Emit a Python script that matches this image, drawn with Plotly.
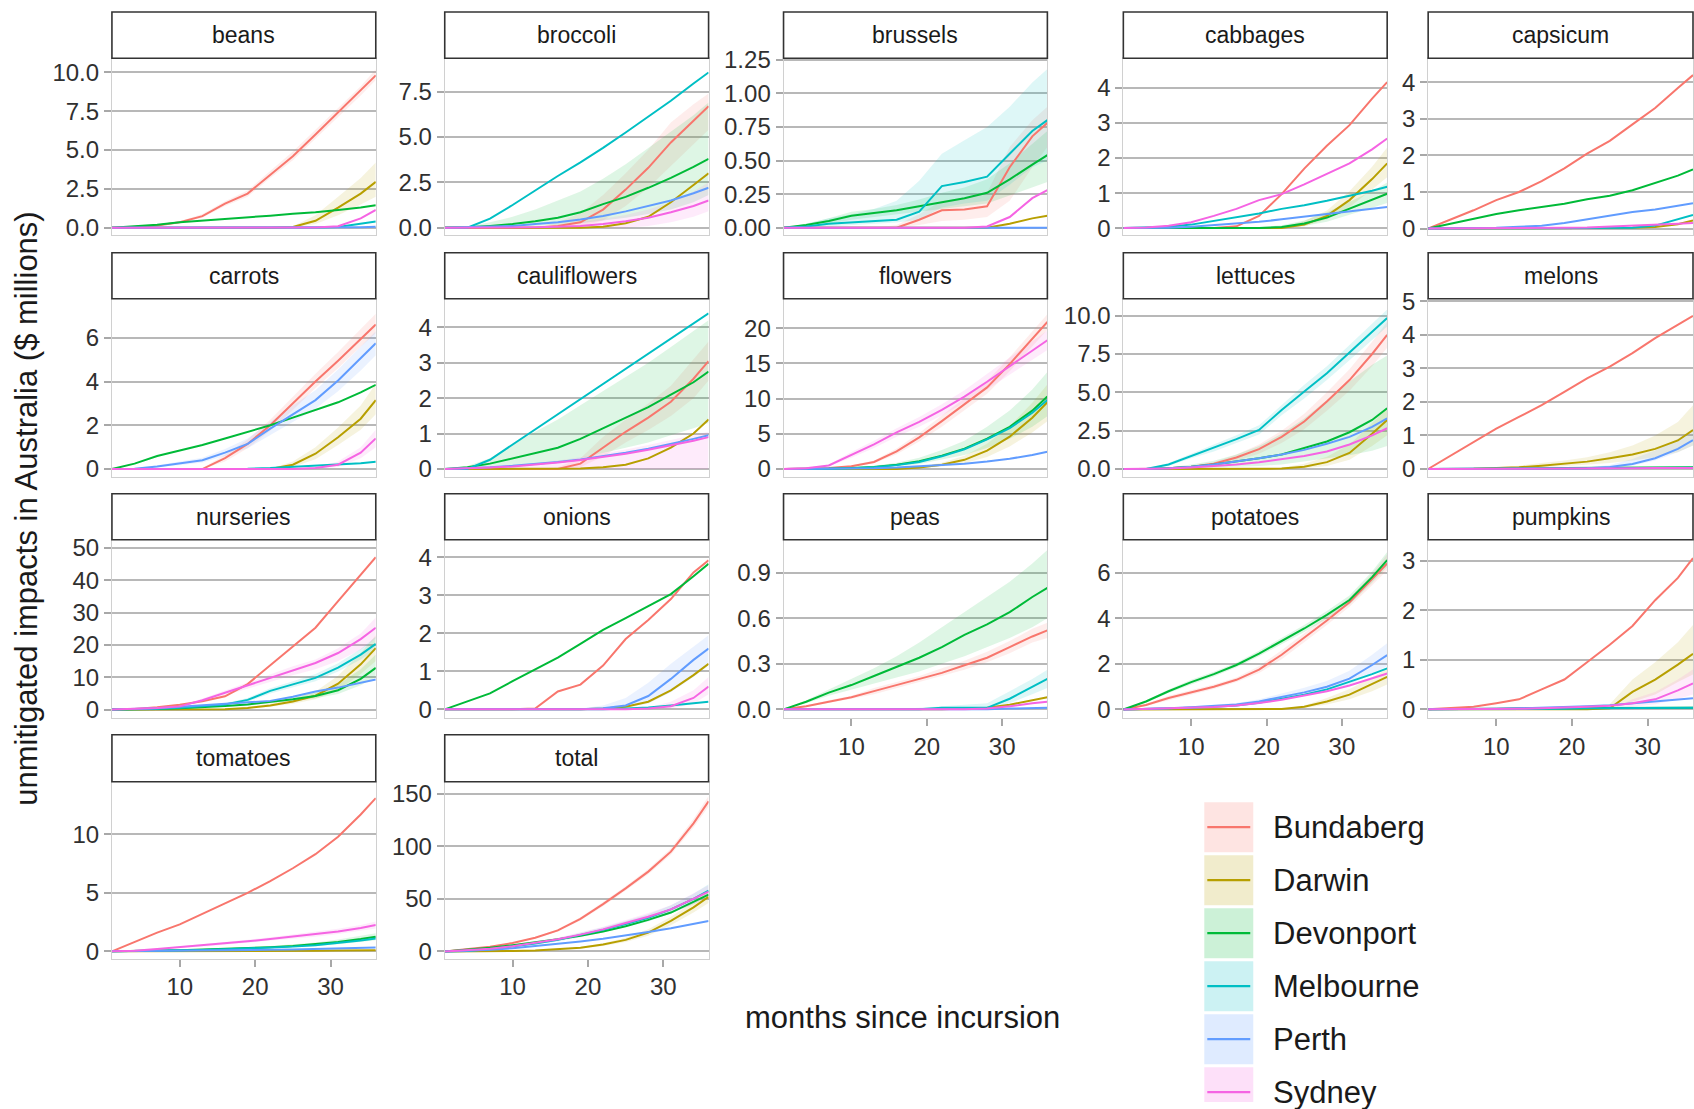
import plotly.graph_objects as go

# ---------------- data ----------------
MONTHS = [1, 4, 7, 10, 13, 16, 19, 22, 25, 28, 31, 34, 36]
CITIES = ["Bundaberg", "Darwin", "Devonport", "Melbourne", "Perth", "Sydney"]
CROPS = ["beans", "broccoli", "brussels", "cabbages", "capsicum",
         "carrots", "cauliflowers", "flowers", "lettuces", "melons",
         "nurseries", "onions", "peas", "potatoes", "pumpkins",
         "tomatoes", "total"]

beans = {
    "Bundaberg": [0, 0.05, 0.15, 0.35, 0.75, 1.55, 2.2, 3.4, 4.6, 6.0, 7.4, 8.8, 9.8],
    "Darwin":    [0, 0, 0, 0, 0, 0, 0, 0, 0.05, 0.45, 1.3, 2.2, 2.95],
    "Devonport": [0, 0.1, 0.2, 0.35, 0.45, 0.55, 0.65, 0.78, 0.9, 1.0, 1.15, 1.3, 1.45],
    "Melbourne": [0, 0, 0, 0, 0, 0, 0, 0, 0, 0.02, 0.05, 0.25, 0.4],
    "Perth":     [0, 0, 0, 0, 0, 0, 0, 0, 0, 0.01, 0.02, 0.04, 0.06],
    "Sydney":    [0, 0, 0, 0, 0, 0, 0, 0, 0, 0.02, 0.1, 0.6, 1.15],
}
broccoli = {
    "Bundaberg": [0, 0, 0, 0, 0, 0.1, 0.3, 1.0, 2.1, 3.3, 4.7, 5.9, 6.7],
    "Darwin":    [0, 0, 0, 0, 0, 0, 0, 0.05, 0.25, 0.6, 1.4, 2.35, 3.0],
    "Devonport": [0, 0.02, 0.1, 0.2, 0.35, 0.55, 0.85, 1.3, 1.7, 2.2, 2.75, 3.35, 3.8],
    "Melbourne": [0, 0, 0.5, 1.25, 2.05, 2.85, 3.6, 4.4, 5.25, 6.1, 7.0, 7.95, 8.56],
    "Perth":     [0, 0.02, 0.05, 0.1, 0.2, 0.3, 0.45, 0.65, 0.9, 1.2, 1.5, 1.9, 2.2],
    "Sydney":    [0, 0, 0, 0, 0.02, 0.05, 0.1, 0.2, 0.35, 0.55, 0.85, 1.2, 1.5],
}
brussels = {
    "Bundaberg": [0, 0, 0, 0, 0, 0, 0.06, 0.13, 0.135, 0.16, 0.45, 0.68, 0.78],
    "Darwin":    [0, 0, 0, 0, 0, 0, 0, 0, 0, 0, 0.03, 0.07, 0.09],
    "Devonport": [0, 0.02, 0.05, 0.09, 0.11, 0.13, 0.16, 0.19, 0.22, 0.26, 0.36, 0.47, 0.54],
    "Melbourne": [0, 0.01, 0.03, 0.04, 0.05, 0.06, 0.12, 0.31, 0.34, 0.38, 0.55, 0.72, 0.80],
    "Perth":     [0, 0, 0, 0, 0, 0, 0, 0, 0, 0, 0, 0, 0],
    "Sydney":    [0, 0, 0, 0, 0, 0, 0, 0, 0, 0.01, 0.08, 0.22, 0.28],
}
cabbages = {
    "Bundaberg": [0, 0, 0, 0, 0, 0.05, 0.35, 0.97, 1.7, 2.35, 2.94, 3.7, 4.17],
    "Darwin":    [0, 0, 0, 0, 0, 0, 0, 0, 0.1, 0.35, 0.8, 1.4, 1.85],
    "Devonport": [0, 0, 0, 0, 0, 0, 0, 0.03, 0.13, 0.3, 0.55, 0.8, 0.98],
    "Melbourne": [0, 0.01, 0.04, 0.1, 0.2, 0.3, 0.42, 0.55, 0.65, 0.78, 0.92, 1.07, 1.18],
    "Perth":     [0, 0, 0.01, 0.04, 0.08, 0.12, 0.18, 0.25, 0.33, 0.4, 0.48, 0.55, 0.6],
    "Sydney":    [0, 0.02, 0.07, 0.17, 0.35, 0.55, 0.8, 0.97, 1.25, 1.55, 1.85, 2.25, 2.56],
}
capsicum = {
    "Bundaberg": [0, 0.25, 0.5, 0.78, 1.0, 1.3, 1.65, 2.05, 2.4, 2.85, 3.3, 3.85, 4.2],
    "Darwin":    [0, 0, 0, 0, 0, 0, 0, 0, 0.01, 0.02, 0.04, 0.12, 0.22],
    "Devonport": [0, 0.13, 0.27, 0.4, 0.5, 0.58, 0.68, 0.8, 0.9, 1.05, 1.25, 1.45, 1.62],
    "Melbourne": [0, 0, 0, 0, 0, 0, 0, 0, 0, 0.02, 0.08, 0.25, 0.37],
    "Perth":     [0, 0, 0, 0.02, 0.05, 0.08, 0.15, 0.25, 0.35, 0.45, 0.52, 0.62, 0.69],
    "Sydney":    [0, 0, 0, 0, 0, 0.01, 0.02, 0.03, 0.05, 0.08, 0.1, 0.13, 0.15],
}
carrots = {
    "Bundaberg": [0, 0, 0, 0, 0, 0.5, 1.15, 2.0, 3.0, 4.0, 4.95, 5.95, 6.6],
    "Darwin":    [0, 0, 0, 0, 0, 0, 0, 0, 0.2, 0.7, 1.45, 2.3, 3.15],
    "Devonport": [0, 0.25, 0.6, 0.85, 1.1, 1.4, 1.7, 2.0, 2.35, 2.7, 3.05, 3.5, 3.85],
    "Melbourne": [0, 0, 0, 0, 0, 0, 0.02, 0.05, 0.1, 0.15, 0.2, 0.27, 0.33],
    "Perth":     [0, 0.02, 0.12, 0.25, 0.4, 0.75, 1.15, 1.85, 2.5, 3.15, 4.05, 5.05, 5.75],
    "Sydney":    [0, 0, 0, 0, 0, 0, 0, 0, 0, 0.05, 0.2, 0.75, 1.4],
}
cauliflowers = {
    "Bundaberg": [0, 0, 0, 0, 0, 0, 0.15, 0.6, 1.05, 1.45, 1.9, 2.55, 3.05],
    "Darwin":    [0, 0, 0, 0, 0, 0, 0.01, 0.05, 0.12, 0.3, 0.6, 1.0, 1.4],
    "Devonport": [0, 0.05, 0.15, 0.3, 0.45, 0.6, 0.85, 1.15, 1.45, 1.75, 2.1, 2.45, 2.75],
    "Melbourne": [0, 0, 0.26, 0.69, 1.11, 1.54, 1.97, 2.4, 2.83, 3.26, 3.69, 4.12, 4.4],
    "Perth":     [0, 0.02, 0.05, 0.09, 0.14, 0.2, 0.27, 0.36, 0.46, 0.57, 0.7, 0.85, 0.95],
    "Sydney":    [0, 0.01, 0.04, 0.07, 0.12, 0.18, 0.25, 0.33, 0.43, 0.54, 0.66, 0.8, 0.9],
}
flowers = {
    "Bundaberg": [0, 0.05, 0.15, 0.4, 1.0, 2.5, 4.5, 6.8, 9.2, 11.6, 14.9, 18.5, 20.9],
    "Darwin":    [0, 0, 0, 0, 0, 0, 0.2, 0.6, 1.3, 2.6, 4.6, 7.3, 9.5],
    "Devonport": [0, 0, 0.05, 0.15, 0.3, 0.6, 1.1, 1.9, 2.9, 4.3, 6.0, 8.3, 10.3],
    "Melbourne": [0, 0, 0.05, 0.12, 0.25, 0.55, 1.0, 1.8, 2.8, 4.2, 5.8, 8.0, 9.8],
    "Perth":     [0, 0, 0, 0.05, 0.1, 0.2, 0.35, 0.5, 0.75, 1.05, 1.45, 2.0, 2.45],
    "Sydney":    [0, 0.1, 0.5, 2.0, 3.5, 5.2, 6.7, 8.4, 10.3, 12.4, 14.6, 16.8, 18.3],
}
lettuces = {
    "Bundaberg": [0, 0, 0.05, 0.15, 0.35, 0.75, 1.3, 2.1, 3.1, 4.4, 5.8, 7.5, 8.75],
    "Darwin":    [0, 0, 0, 0, 0, 0, 0, 0.03, 0.15, 0.45, 1.05, 2.3, 3.2],
    "Devonport": [0, 0, 0.05, 0.15, 0.3, 0.5, 0.7, 0.95, 1.35, 1.8, 2.4, 3.2, 3.96],
    "Melbourne": [0, 0, 0.3, 0.85, 1.35, 1.95, 2.55, 3.85, 5.05, 6.25, 7.6, 8.95, 9.85],
    "Perth":     [0, 0, 0.05, 0.15, 0.3, 0.5, 0.7, 0.95, 1.25, 1.65, 2.1, 2.75, 3.3],
    "Sydney":    [0, 0, 0.03, 0.1, 0.2, 0.3, 0.45, 0.65, 0.85, 1.15, 1.6, 2.2, 2.66],
}
melons = {
    "Bundaberg": [0, 0.4, 0.8, 1.2, 1.55, 1.9, 2.3, 2.7, 3.05, 3.45, 3.9, 4.3, 4.56],
    "Darwin":    [0, 0, 0.01, 0.03, 0.05, 0.1, 0.15, 0.22, 0.32, 0.43, 0.6, 0.85, 1.16],
    "Devonport": [0, 0, 0.01, 0.01, 0.02, 0.02, 0.03, 0.03, 0.03, 0.04, 0.04, 0.05, 0.05],
    "Melbourne": [0, 0, 0, 0.01, 0.01, 0.01, 0.02, 0.02, 0.02, 0.03, 0.03, 0.03, 0.04],
    "Perth":     [0, 0, 0, 0, 0, 0, 0, 0.02, 0.06, 0.15, 0.32, 0.6, 0.86],
    "Sydney":    [0, 0, 0, 0, 0.01, 0.01, 0.01, 0.02, 0.02, 0.02, 0.03, 0.03, 0.03],
}
nurseries = {
    "Bundaberg": [0, 0.2, 0.7, 1.5, 2.6, 4.1, 7.9, 13.8, 19.5, 25.3, 33.5, 41.8, 47.1],
    "Darwin":    [0, 0, 0, 0, 0, 0.1, 0.5, 1.3, 2.5, 4.3, 8.0, 14.0, 19.0],
    "Devonport": [0, 0.05, 0.2, 0.4, 0.7, 1.1, 1.6, 2.3, 3.2, 4.2, 6.0, 9.5, 12.9],
    "Melbourne": [0, 0.1, 0.3, 0.6, 1.0, 1.6, 3.0, 5.8, 7.8, 9.8, 13.0, 17.0, 20.3],
    "Perth":     [0, 0.1, 0.4, 0.9, 1.4, 1.8, 2.2, 2.7, 4.0, 5.6, 6.8, 8.2, 9.3],
    "Sydney":    [0, 0.2, 0.5, 1.0, 2.9, 5.2, 7.5, 9.6, 12.0, 14.4, 17.5, 21.8, 25.3],
}
onions = {
    "Bundaberg": [0, 0, 0, 0, 0.02, 0.47, 0.65, 1.15, 1.85, 2.35, 2.9, 3.6, 3.92],
    "Darwin":    [0, 0, 0, 0, 0, 0, 0, 0.02, 0.07, 0.2, 0.5, 0.9, 1.2],
    "Devonport": [0, 0.2, 0.42, 0.74, 1.06, 1.36, 1.72, 2.09, 2.4, 2.71, 3.03, 3.5, 3.83],
    "Melbourne": [0, 0, 0, 0, 0, 0, 0, 0, 0.02, 0.05, 0.1, 0.16, 0.2],
    "Perth":     [0, 0, 0, 0, 0, 0, 0, 0.03, 0.1, 0.35, 0.8, 1.3, 1.6],
    "Sydney":    [0, 0, 0, 0, 0, 0, 0, 0, 0, 0.02, 0.08, 0.3, 0.6],
}
peas = {
    "Bundaberg": [0, 0.02, 0.05, 0.08, 0.12, 0.16, 0.2, 0.24, 0.29, 0.34, 0.41, 0.48, 0.52],
    "Darwin":    [0, 0, 0, 0, 0, 0, 0, 0, 0.005, 0.01, 0.03, 0.06, 0.08],
    "Devonport": [0, 0.05, 0.11, 0.16, 0.22, 0.28, 0.34, 0.41, 0.49, 0.56, 0.64, 0.74, 0.80],
    "Melbourne": [0, 0, 0, 0, 0, 0, 0, 0.01, 0.01, 0.01, 0.07, 0.15, 0.2],
    "Perth":     [0, 0, 0, 0, 0, 0, 0, 0, 0, 0, 0.005, 0.01, 0.01],
    "Sydney":    [0, 0, 0, 0, 0, 0, 0, 0, 0, 0.005, 0.02, 0.04, 0.05],
}
potatoes = {
    "Bundaberg": [0, 0.2, 0.5, 0.75, 1.0, 1.3, 1.75, 2.4, 3.15, 3.9, 4.7, 5.7, 6.4],
    "Darwin":    [0, 0, 0, 0, 0, 0, 0, 0.02, 0.12, 0.35, 0.65, 1.1, 1.43],
    "Devonport": [0, 0.35, 0.8, 1.2, 1.55, 1.95, 2.45, 3.0, 3.55, 4.15, 4.8, 5.8, 6.55],
    "Melbourne": [0, 0.02, 0.04, 0.08, 0.12, 0.18, 0.3, 0.48, 0.65, 0.88, 1.2, 1.55, 1.8],
    "Perth":     [0, 0.02, 0.05, 0.1, 0.15, 0.22, 0.35, 0.55, 0.75, 1.0, 1.35, 1.95, 2.38],
    "Sydney":    [0, 0.02, 0.04, 0.07, 0.11, 0.17, 0.28, 0.43, 0.6, 0.8, 1.05, 1.35, 1.58],
}
pumpkins = {
    "Bundaberg": [0, 0.02, 0.05, 0.12, 0.2, 0.4, 0.6, 0.95, 1.3, 1.68, 2.2, 2.65, 3.05],
    "Darwin":    [0, 0, 0, 0, 0, 0, 0, 0, 0.02, 0.35, 0.6, 0.9, 1.12],
    "Devonport": [0, 0, 0.01, 0.01, 0.02, 0.02, 0.02, 0.03, 0.03, 0.03, 0.03, 0.03, 0.03],
    "Melbourne": [0, 0, 0, 0.01, 0.01, 0.01, 0.01, 0.02, 0.02, 0.02, 0.02, 0.03, 0.03],
    "Perth":     [0, 0, 0.01, 0.01, 0.02, 0.03, 0.04, 0.06, 0.08, 0.12, 0.15, 0.19, 0.22],
    "Sydney":    [0, 0, 0, 0.01, 0.01, 0.02, 0.03, 0.05, 0.07, 0.12, 0.2, 0.38, 0.52],
}
tomatoes = {
    "Bundaberg": [0, 0.8, 1.6, 2.3, 3.2, 4.1, 5.0, 6.0, 7.1, 8.3, 9.8, 11.7, 13.1],
    "Darwin":    [0, 0, 0, 0, 0, 0.01, 0.02, 0.03, 0.04, 0.05, 0.07, 0.09, 0.1],
    "Devonport": [0, 0.02, 0.05, 0.1, 0.15, 0.2, 0.28, 0.35, 0.45, 0.6, 0.8, 1.05, 1.25],
    "Melbourne": [0, 0.02, 0.05, 0.08, 0.12, 0.17, 0.23, 0.3, 0.4, 0.52, 0.7, 0.92, 1.1],
    "Perth":     [0, 0.01, 0.02, 0.04, 0.06, 0.08, 0.1, 0.13, 0.16, 0.2, 0.24, 0.28, 0.32],
    "Sydney":    [0, 0.05, 0.2, 0.35, 0.5, 0.7, 0.85, 1.05, 1.25, 1.45, 1.7, 2.0, 2.25],
}
total = {
    "Bundaberg": [0, 2, 4.5, 8, 13, 20, 31, 45, 60, 76, 95, 122, 143],
    "Darwin":    [0, 0, 0.2, 0.5, 1, 2, 3.5, 6.5, 11, 18, 29, 42, 52],
    "Devonport": [0, 1.5, 3.5, 6, 8.5, 11.5, 15, 19, 24, 30, 37, 47, 54],
    "Melbourne": [0, 0.5, 2, 4.5, 7.5, 11, 15.5, 20.5, 26, 32, 40, 50, 58],
    "Perth":     [0, 0.5, 1.5, 3, 5, 7, 9.5, 12, 15, 18.5, 22, 26, 29],
    "Sydney":    [0, 1, 2.5, 5, 8, 11.5, 16, 21, 27, 33, 40, 50, 57],
}

# uncertainty bands (lower, upper) read from the shaded ribbons
beans_band = {
    "Bundaberg": ([0, 0.04, 0.12, 0.3, 0.65, 1.4, 2.0, 3.2, 4.35, 5.7, 7.1, 8.5, 9.5],
                  [0, 0.07, 0.2, 0.42, 0.88, 1.7, 2.4, 3.65, 4.9, 6.3, 7.7, 9.1, 10.2]),
    "Darwin": ([0, 0, 0, 0, 0, 0, 0, 0, 0.02, 0.25, 0.8, 1.5, 2.0],
               [0, 0, 0, 0, 0, 0, 0, 0, 0.1, 0.8, 2.0, 3.2, 4.2]),
}
broccoli_band = {
    "Bundaberg": ([0, 0, 0, 0, 0, 0, 0.05, 0.4, 1.2, 2.2, 3.4, 4.6, 5.4],
                  [0, 0, 0, 0, 0, 0.3, 0.8, 1.8, 3.0, 4.3, 5.8, 6.8, 7.4]),
    "Devonport": ([0, 0, 0.02, 0.05, 0.1, 0.15, 0.25, 0.4, 0.55, 0.75, 1.0, 1.4, 1.8],
                  [0, 0.05, 0.3, 0.6, 1.0, 1.5, 2.0, 2.7, 3.5, 4.4, 5.3, 6.2, 6.9]),
    "Sydney": ([0, 0, 0, 0, 0, 0, 0, 0, 0, 0.1, 0.3, 0.6, 0.9],
               [0, 0, 0, 0, 0.05, 0.15, 0.3, 0.5, 0.7, 1.0, 1.4, 2.0, 2.5]),
}
brussels_band = {
    "Bundaberg": ([0, 0, 0, 0, 0, 0, 0.02, 0.05, 0.06, 0.08, 0.2, 0.45, 0.6],
                  [0, 0, 0, 0, 0, 0.02, 0.1, 0.2, 0.22, 0.26, 0.6, 0.8, 0.9]),
    "Devonport": ([0, 0.01, 0.03, 0.06, 0.08, 0.1, 0.12, 0.14, 0.16, 0.18, 0.24, 0.3, 0.34],
                  [0, 0.03, 0.07, 0.12, 0.14, 0.17, 0.21, 0.26, 0.3, 0.36, 0.48, 0.62, 0.72]),
    "Melbourne": ([0, 0, 0.01, 0.02, 0.03, 0.04, 0.06, 0.15, 0.18, 0.2, 0.32, 0.45, 0.5],
                  [0, 0.03, 0.07, 0.1, 0.14, 0.2, 0.35, 0.55, 0.65, 0.75, 0.9, 1.08, 1.18]),
}
cabbages_band = {
    "Darwin": ([0, 0, 0, 0, 0, 0, 0, 0, 0.05, 0.25, 0.6, 1.1, 1.45],
               [0, 0, 0, 0, 0, 0, 0, 0.02, 0.2, 0.5, 1.05, 1.75, 2.3]),
    "Devonport": ([0, 0, 0, 0, 0, 0, 0, 0.01, 0.06, 0.18, 0.38, 0.58, 0.72],
                  [0, 0, 0, 0, 0, 0.01, 0.03, 0.08, 0.22, 0.45, 0.75, 1.05, 1.3]),
}
capsicum_band = {}
carrots_band = {
    "Bundaberg": ([0, 0, 0, 0, 0, 0.35, 0.95, 1.75, 2.7, 3.7, 4.6, 5.6, 6.2],
                  [0, 0, 0, 0, 0.05, 0.65, 1.35, 2.25, 3.3, 4.35, 5.35, 6.4, 7.1]),
    "Darwin": ([0, 0, 0, 0, 0, 0, 0, 0, 0.1, 0.45, 1.1, 1.8, 2.5],
               [0, 0, 0, 0, 0, 0, 0, 0.02, 0.35, 1.0, 1.9, 2.9, 3.9]),
    "Perth": ([0, 0.01, 0.08, 0.18, 0.3, 0.6, 0.95, 1.55, 2.15, 2.75, 3.55, 4.5, 5.2],
              [0, 0.04, 0.17, 0.33, 0.52, 0.92, 1.4, 2.15, 2.9, 3.6, 4.55, 5.6, 6.3]),
    "Sydney": ([0, 0, 0, 0, 0, 0, 0, 0, 0, 0.02, 0.1, 0.5, 1.0],
               [0, 0, 0, 0, 0, 0, 0, 0, 0, 0.1, 0.35, 1.0, 1.8]),
}
cauliflowers_band = {
    "Bundaberg": ([0, 0, 0, 0, 0, 0, 0.05, 0.35, 0.75, 1.1, 1.5, 2.0, 2.5],
                  [0, 0, 0, 0, 0, 0.05, 0.3, 0.9, 1.4, 1.85, 2.35, 3.1, 3.6]),
    "Devonport": ([0, 0.02, 0.05, 0.1, 0.15, 0.2, 0.3, 0.45, 0.6, 0.75, 0.95, 1.15, 1.3],
                  [0, 0.08, 0.3, 0.7, 1.05, 1.4, 1.8, 2.2, 2.6, 3.0, 3.45, 3.9, 4.2]),
    "Sydney": ([0, 0, 0, 0, 0, 0, 0, 0, 0, 0, 0, 0, 0],
               [0, 0.02, 0.06, 0.1, 0.16, 0.24, 0.33, 0.43, 0.55, 0.68, 0.82, 0.95, 1.05]),
}
flowers_band = {
    "Bundaberg": ([0, 0.03, 0.1, 0.3, 0.8, 2.1, 3.9, 6.0, 8.4, 10.7, 13.9, 17.4, 19.8],
                  [0, 0.07, 0.2, 0.5, 1.2, 2.9, 5.1, 7.6, 10.0, 12.5, 15.9, 19.6, 22.0]),
    "Darwin": ([0, 0, 0, 0, 0, 0, 0.1, 0.35, 0.8, 1.7, 3.2, 5.2, 6.8],
               [0, 0, 0, 0, 0, 0.05, 0.35, 0.9, 1.9, 3.6, 6.1, 9.4, 12.0]),
    "Devonport": ([0, 0, 0.02, 0.08, 0.18, 0.35, 0.7, 1.3, 2.0, 3.0, 4.3, 6.0, 7.5],
                  [0, 0, 0.1, 0.25, 0.45, 0.9, 1.6, 2.7, 4.0, 6.0, 8.3, 11.3, 13.8]),
    "Sydney": ([0, 0.05, 0.35, 1.6, 3.0, 4.6, 6.0, 7.6, 9.4, 11.3, 13.4, 15.5, 16.9],
               [0, 0.15, 0.65, 2.4, 4.0, 5.8, 7.4, 9.2, 11.2, 13.5, 15.8, 18.1, 19.7]),
}
lettuces_band = {
    "Bundaberg": ([0, 0, 0.02, 0.1, 0.25, 0.55, 1.0, 1.7, 2.6, 3.8, 5.1, 6.7, 7.9],
                  [0, 0, 0.08, 0.2, 0.45, 0.95, 1.6, 2.5, 3.6, 5.0, 6.5, 8.3, 9.6]),
    "Darwin": ([0, 0, 0, 0, 0, 0, 0, 0, 0.05, 0.2, 0.6, 1.5, 2.2],
               [0, 0, 0, 0, 0, 0, 0, 0.08, 0.35, 0.8, 1.6, 3.0, 4.0]),
    "Devonport": ([0, 0, 0.01, 0.05, 0.1, 0.15, 0.2, 0.3, 0.5, 0.7, 0.9, 1.2, 1.5],
                  [0, 0, 0.1, 0.3, 0.55, 0.95, 1.5, 2.3, 3.3, 4.5, 5.7, 6.8, 7.4]),
    "Melbourne": ([0, 0, 0.2, 0.7, 1.15, 1.7, 2.25, 3.5, 4.6, 5.8, 7.1, 8.4, 9.3],
                  [0, 0, 0.4, 1.0, 1.55, 2.2, 2.85, 4.2, 5.5, 6.7, 8.1, 9.5, 10.4]),
}
melons_band = {
    "Darwin": ([0, 0, 0, 0.01, 0.02, 0.05, 0.08, 0.12, 0.18, 0.25, 0.35, 0.5, 0.7],
               [0, 0, 0.02, 0.05, 0.1, 0.18, 0.25, 0.35, 0.5, 0.7, 1.0, 1.4, 1.9]),
    "Perth": ([0, 0, 0, 0, 0, 0, 0, 0, 0.02, 0.1, 0.25, 0.5, 0.7],
              [0, 0, 0, 0, 0, 0, 0, 0.05, 0.12, 0.3, 0.55, 0.9, 1.2]),
}
nurseries_band = {
    "Darwin": ([0, 0, 0, 0, 0, 0.05, 0.3, 0.9, 1.8, 3.2, 6.0, 11, 15],
               [0, 0, 0, 0, 0, 0.2, 0.8, 1.8, 3.3, 5.6, 10.5, 17.5, 23]),
    "Devonport": ([0, 0.03, 0.15, 0.3, 0.55, 0.9, 1.3, 1.9, 2.7, 3.5, 4.8, 7.5, 10],
                  [0, 0.08, 0.3, 0.5, 0.85, 1.3, 1.9, 2.8, 3.8, 5.2, 7.8, 12.5, 17]),
    "Melbourne": ([0, 0.05, 0.2, 0.4, 0.7, 1.2, 2.4, 5.0, 6.9, 8.8, 11.8, 15.5, 18.5],
                  [0, 0.15, 0.4, 0.8, 1.3, 2.0, 3.6, 6.6, 8.8, 11, 14.3, 18.7, 22.5]),
    "Sydney": ([0, 0.1, 0.4, 0.8, 2.4, 4.5, 6.6, 8.5, 10.6, 12.5, 15, 18.5, 22],
               [0, 0.3, 0.6, 1.2, 3.4, 5.9, 8.4, 10.7, 13.4, 15.5, 19, 23.5, 28.5]),
}
onions_band = {
    "Perth": ([0, 0, 0, 0, 0, 0, 0, 0.01, 0.04, 0.15, 0.45, 0.85, 1.15],
              [0, 0, 0, 0, 0, 0, 0.02, 0.1, 0.3, 0.7, 1.2, 1.65, 1.95]),
    "Sydney": ([0, 0, 0, 0, 0, 0, 0, 0, 0, 0, 0.02, 0.15, 0.4],
               [0, 0, 0, 0, 0, 0, 0, 0, 0, 0.05, 0.2, 0.5, 0.85]),
}
peas_band = {
    "Bundaberg": ([0, 0.015, 0.04, 0.07, 0.1, 0.14, 0.18, 0.22, 0.26, 0.31, 0.37, 0.44, 0.47],
                  [0, 0.025, 0.06, 0.09, 0.14, 0.18, 0.22, 0.27, 0.32, 0.38, 0.45, 0.53, 0.57]),
    "Devonport": ([0, 0.04, 0.09, 0.13, 0.17, 0.21, 0.25, 0.3, 0.35, 0.41, 0.47, 0.54, 0.6],
                  [0, 0.06, 0.13, 0.2, 0.27, 0.35, 0.44, 0.54, 0.64, 0.74, 0.84, 0.96, 1.05]),
    "Melbourne": ([0, 0, 0, 0, 0, 0, 0, 0, 0, 0, 0.04, 0.1, 0.14],
                  [0, 0, 0, 0, 0, 0, 0.01, 0.02, 0.03, 0.04, 0.12, 0.2, 0.26]),
}
potatoes_band = {
    "Bundaberg": ([0, 0.15, 0.4, 0.65, 0.9, 1.2, 1.6, 2.2, 2.95, 3.7, 4.5, 5.45, 6.1],
                  [0, 0.25, 0.6, 0.85, 1.1, 1.4, 1.9, 2.6, 3.35, 4.1, 4.9, 5.95, 6.8]),
    "Darwin": ([0, 0, 0, 0, 0, 0, 0, 0.01, 0.07, 0.22, 0.45, 0.8, 1.1],
               [0, 0, 0, 0, 0, 0, 0, 0.03, 0.18, 0.5, 0.9, 1.4, 1.8]),
    "Devonport": ([0, 0.3, 0.72, 1.1, 1.45, 1.85, 2.33, 2.85, 3.4, 3.98, 4.6, 5.55, 6.25],
                  [0, 0.4, 0.88, 1.3, 1.65, 2.05, 2.57, 3.15, 3.7, 4.32, 5.0, 6.05, 6.9]),
    "Perth": ([0, 0.01, 0.03, 0.07, 0.11, 0.17, 0.27, 0.43, 0.6, 0.8, 1.1, 1.55, 1.9],
              [0, 0.03, 0.07, 0.13, 0.2, 0.28, 0.45, 0.7, 0.95, 1.25, 1.7, 2.4, 2.9]),
}
pumpkins_band = {
    "Darwin": ([0, 0, 0, 0, 0, 0, 0, 0, 0, 0.15, 0.3, 0.55, 0.7],
               [0, 0, 0, 0, 0, 0, 0, 0.05, 0.1, 0.6, 0.95, 1.35, 1.7]),
    "Sydney": ([0, 0, 0, 0, 0, 0, 0, 0, 0, 0.05, 0.1, 0.2, 0.3],
               [0, 0, 0, 0, 0, 0, 0, 0, 0, 0.2, 0.35, 0.6, 0.8]),
}
tomatoes_band = {
    "Devonport": ([0, 0.01, 0.03, 0.06, 0.1, 0.14, 0.2, 0.26, 0.34, 0.45, 0.6, 0.8, 0.95],
                  [0, 0.03, 0.07, 0.14, 0.2, 0.26, 0.36, 0.45, 0.57, 0.75, 1.0, 1.3, 1.55]),
    "Sydney": ([0, 0.03, 0.15, 0.28, 0.4, 0.58, 0.72, 0.9, 1.08, 1.25, 1.48, 1.75, 1.95],
               [0, 0.07, 0.25, 0.42, 0.6, 0.82, 0.98, 1.2, 1.42, 1.65, 1.92, 2.25, 2.55]),
}
total_band = {
    "Bundaberg": ([0, 1.8, 4.2, 7.5, 12.3, 19, 29.5, 43, 58, 73.5, 92, 118, 138],
                  [0, 2.2, 4.8, 8.5, 13.7, 21, 32.5, 47, 62, 78.5, 98, 126, 148]),
    "Darwin": ([0, 0, 0.1, 0.3, 0.7, 1.5, 2.7, 5.2, 9, 15, 25, 37, 46],
               [0, 0, 0.3, 0.7, 1.3, 2.5, 4.3, 7.8, 13, 21, 33, 47, 58]),
    "Melbourne": ([0, 0.3, 1.5, 3.7, 6.5, 9.5, 13.5, 18, 23, 28.5, 36, 45, 52],
                  [0, 0.7, 2.5, 5.3, 8.5, 12.5, 17.5, 23, 29, 35.5, 44, 55, 64]),
    "Sydney": ([0, 0.8, 2, 4.2, 7, 10, 14, 18.5, 24, 29.5, 36, 45, 51],
               [0, 1.2, 3, 5.8, 9, 13, 18, 23.5, 30, 36.5, 44, 55, 63]),
}

DATA = {"beans": beans, "broccoli": broccoli, "brussels": brussels, "cabbages": cabbages,
        "capsicum": capsicum, "carrots": carrots, "cauliflowers": cauliflowers,
        "flowers": flowers, "lettuces": lettuces, "melons": melons, "nurseries": nurseries,
        "onions": onions, "peas": peas, "potatoes": potatoes, "pumpkins": pumpkins,
        "tomatoes": tomatoes, "total": total}
BANDS = {"beans": beans_band, "broccoli": broccoli_band, "brussels": brussels_band,
         "cabbages": cabbages_band, "capsicum": capsicum_band, "carrots": carrots_band,
         "cauliflowers": cauliflowers_band, "flowers": flowers_band,
         "lettuces": lettuces_band, "melons": melons_band, "nurseries": nurseries_band,
         "onions": onions_band, "peas": peas_band, "potatoes": potatoes_band,
         "pumpkins": pumpkins_band, "tomatoes": tomatoes_band, "total": total_band}

Y_TICKS = {
    "beans": [0, 2.5, 5, 7.5, 10], "broccoli": [0, 2.5, 5, 7.5],
    "brussels": [0, 0.25, 0.5, 0.75, 1.0, 1.25], "cabbages": [0, 1, 2, 3, 4],
    "capsicum": [0, 1, 2, 3, 4], "carrots": [0, 2, 4, 6], "cauliflowers": [0, 1, 2, 3, 4],
    "flowers": [0, 5, 10, 15, 20], "lettuces": [0, 2.5, 5, 7.5, 10],
    "melons": [0, 1, 2, 3, 4, 5], "nurseries": [0, 10, 20, 30, 40, 50],
    "onions": [0, 1, 2, 3, 4], "peas": [0, 0.3, 0.6, 0.9], "potatoes": [0, 2, 4, 6],
    "pumpkins": [0, 1, 2, 3], "tomatoes": [0, 5, 10], "total": [0, 50, 100, 150],
}
Y_TICK_TEXT = {
    "beans": ["0.0", "2.5", "5.0", "7.5", "10.0"], "broccoli": ["0.0", "2.5", "5.0", "7.5"],
    "brussels": ["0.00", "0.25", "0.50", "0.75", "1.00", "1.25"],
    "cabbages": ["0", "1", "2", "3", "4"], "capsicum": ["0", "1", "2", "3", "4"],
    "carrots": ["0", "2", "4", "6"], "cauliflowers": ["0", "1", "2", "3", "4"],
    "flowers": ["0", "5", "10", "15", "20"], "lettuces": ["0.0", "2.5", "5.0", "7.5", "10.0"],
    "melons": ["0", "1", "2", "3", "4", "5"], "nurseries": ["0", "10", "20", "30", "40", "50"],
    "onions": ["0", "1", "2", "3", "4"], "peas": ["0.0", "0.3", "0.6", "0.9"],
    "potatoes": ["0", "2", "4", "6"], "pumpkins": ["0", "1", "2", "3"],
    "tomatoes": ["0", "5", "10"], "total": ["0", "50", "100", "150"],
}
X_TICKS = [10, 20, 30]
X_TICK_TEXT = ["10", "20", "30"]

X_TITLE = "months since incursion"
Y_TITLE = "unmitigated impacts in Australia ($ millions)"

# ---------------- layout / style ----------------
COLORS = {"Bundaberg": "#F8766D", "Darwin": "#B79F00", "Devonport": "#00BA38",
          "Melbourne": "#00BFC4", "Perth": "#619CFF", "Sydney": "#F564E3"}
W, H = 1694, 1109
COL_X = [(112, 376), (445, 709), (784, 1048), (1124, 1388), (1429, 1694)]
ROWS = [(9.5, 56.5, 233), (251, 297, 475), (492, 538, 716), (733, 780, 957)]
Y_RANGE = {
    "beans": [-0.45, 10.9], "broccoli": [-0.39, 9.34], "brussels": [-0.052, 1.26],
    "cabbages": [-0.19, 4.85], "capsicum": [-0.17, 4.66], "carrots": [-0.35, 7.78],
    "cauliflowers": [-0.22, 4.81], "flowers": [-1.1, 24.2], "lettuces": [-0.5, 11.1],
    "melons": [-0.23, 5.07], "nurseries": [-2.5, 52.5], "onions": [-0.22, 4.46],
    "peas": [-0.055, 1.117], "potatoes": [-0.36, 7.44], "pumpkins": [-0.17, 3.42],
    "tomatoes": [-0.63, 14.5], "total": [-6.9, 161.6],
}
BOTTOM = {"peas", "potatoes", "pumpkins", "tomatoes", "total"}
FONT = "Liberation Sans, Arial, Helvetica, sans-serif"
TICK_FONT = dict(family=FONT, size=24, color="#303030")
TITLE_SIZE = 31

# the page photo maps figure pixel y to about 10.2 + 0.983*y; compensate
Y_OFF, Y_SCALE = 10.2, 0.983


def py(y):
    """target screen y (px) -> paper fraction"""
    v = (y - Y_OFF) / Y_SCALE
    v = min(max(v, 0.0), H)
    return 1 - v / H


def rgba(hexcol, a):
    h = hexcol.lstrip("#")
    return "rgba(%d,%d,%d,%.3f)" % (int(h[0:2], 16), int(h[2:4], 16), int(h[4:6], 16), a)


fig = go.Figure()
shapes, annotations = [], []
layout_axes = {}

for i, crop in enumerate(CROPS):
    row, col = divmod(i, 5)
    k = i + 1
    xs = "x" if k == 1 else "x%d" % k
    ys = "y" if k == 1 else "y%d" % k
    x0, x1 = COL_X[col]
    st, pt, pb = ROWS[row]

    for city in CITIES:
        if city in BANDS[crop]:
            lo, hi = BANDS[crop][city]
            fig.add_trace(go.Scatter(
                x=MONTHS + MONTHS[::-1], y=hi + lo[::-1], fill="toself",
                fillcolor=rgba(COLORS[city], 0.13), line=dict(width=0),
                mode="lines", hoverinfo="skip", showlegend=False, xaxis=xs, yaxis=ys))
    for city in CITIES:
        fig.add_trace(go.Scatter(
            x=MONTHS, y=DATA[crop][city], mode="lines", name=city,
            line=dict(color=COLORS[city], width=2), showlegend=False,
            xaxis=xs, yaxis=ys))

    bottom = crop in BOTTOM
    layout_axes["xaxis" if k == 1 else "xaxis%d" % k] = dict(
        domain=[x0 / W, min(x1 / W, 1.0)], range=[1, 36], anchor=ys,
        showgrid=False, zeroline=False, showline=True, mirror=True,
        linecolor="#D0D0D0", linewidth=1,
        tickvals=X_TICKS, ticktext=X_TICK_TEXT, showticklabels=bottom,
        ticks="outside" if bottom else "", ticklen=7, tickwidth=1.6,
        tickcolor="#A8A8A8", tickfont=TICK_FONT, fixedrange=True)
    layout_axes["yaxis" if k == 1 else "yaxis%d" % k] = dict(
        domain=[py(pb), py(pt)], range=Y_RANGE[crop], anchor=xs,
        showgrid=True, gridcolor="#B8B8B8", gridwidth=1.6, zeroline=False,
        showline=True, mirror=True, linecolor="#D0D0D0", linewidth=1,
        tickvals=Y_TICKS[crop], ticktext=Y_TICK_TEXT[crop],
        ticks="outside", ticklen=7, tickwidth=1.6, tickcolor="#A8A8A8",
        tickfont=TICK_FONT, fixedrange=True)

    shapes.append(dict(type="rect", xref="paper", yref="paper",
                       x0=x0 / W, x1=min(x1 / W, 1.0), y0=py(pt), y1=py(st),
                       line=dict(color="#333333", width=1.6), fillcolor="white"))
    annotations.append(dict(xref="paper", yref="paper", x=(x0 + x1) / 2 / W,
                            y=py((st + pt) / 2), text=crop, showarrow=False,
                            xanchor="center", yanchor="middle",
                            font=dict(family=FONT, size=23, color="#1A1A1A")))

annotations.append(dict(xref="paper", yref="paper", x=903 / W, y=py(1016),
                        text=X_TITLE, showarrow=False, xanchor="center", yanchor="middle",
                        font=dict(family=FONT, size=TITLE_SIZE, color="#1A1A1A")))
annotations.append(dict(xref="paper", yref="paper", x=27 / W, y=py(507),
                        text=Y_TITLE, showarrow=False, textangle=-90,
                        xanchor="center", yanchor="middle",
                        font=dict(family=FONT, size=TITLE_SIZE, color="#1A1A1A")))

for j, city in enumerate(CITIES):
    yc = 825.5 + 53 * j
    shapes.append(dict(type="rect", xref="paper", yref="paper",
                       x0=1205 / W, x1=1254 / W, y0=py(yc + 25), y1=py(yc - 25),
                       line=dict(width=0), fillcolor=rgba(COLORS[city], 0.2)))
    shapes.append(dict(type="line", xref="paper", yref="paper",
                       x0=1208 / W, x1=1251 / W, y0=py(yc), y1=py(yc),
                       line=dict(color=COLORS[city], width=2.2)))
    annotations.append(dict(xref="paper", yref="paper", x=1272 / W, y=py(yc),
                            text=city, showarrow=False, xanchor="left", yanchor="middle",
                            font=dict(family=FONT, size=TITLE_SIZE, color="#1A1A1A")))

fig.update_layout(
    width=W, height=H, margin=dict(l=0, r=0, t=0, b=0),
    paper_bgcolor="white", plot_bgcolor="white",
    shapes=shapes, annotations=annotations, showlegend=False,
    font=dict(family=FONT), **layout_axes)

PIN = ("document.documentElement.style.margin='0';document.body.style.margin='0';"
       "document.body.style.overflow='hidden';"
       "var d=document.getElementById('{plot_id}');d.style.position='fixed';"
       "d.style.left='0px';d.style.top='0px';")

fig.write_html("out.html", post_script=PIN, config={"displayModeBar": False})
